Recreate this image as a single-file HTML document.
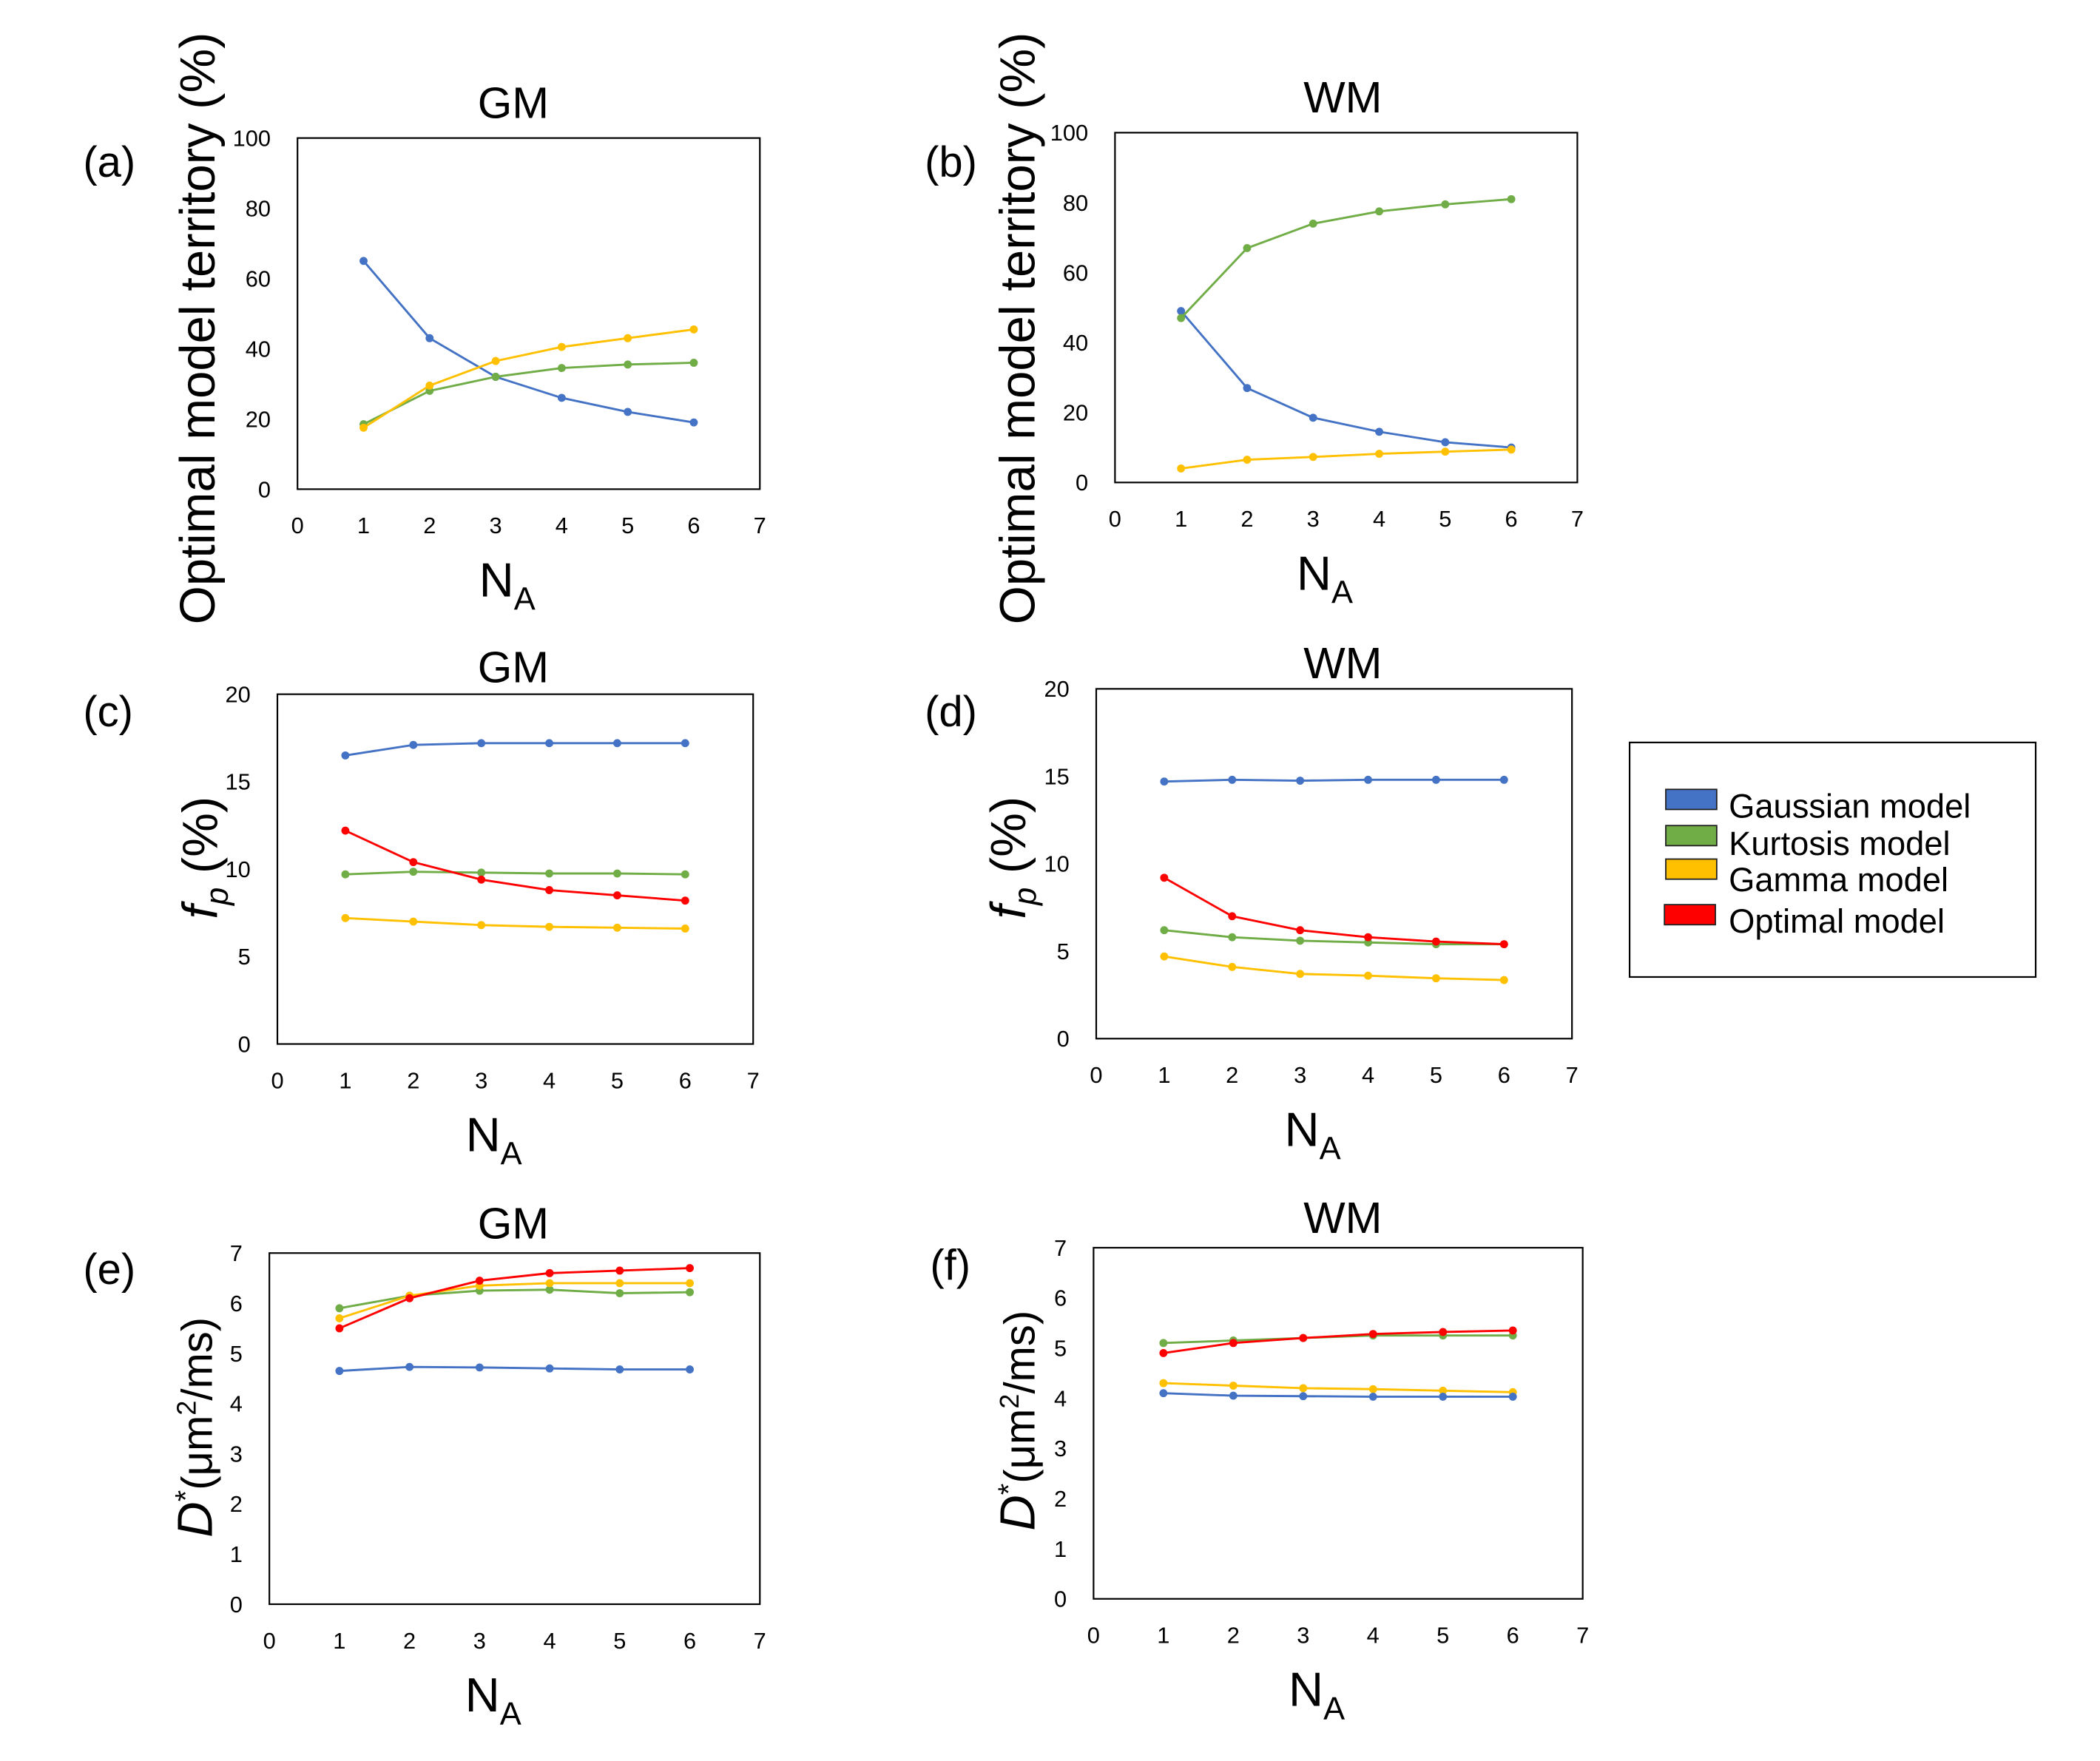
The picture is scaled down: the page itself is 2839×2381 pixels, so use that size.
<!DOCTYPE html>
<html><head><meta charset="utf-8">
<style>
html,body{margin:0;padding:0;background:#fff;}
svg{display:block;}
text{font-family:"Liberation Sans",sans-serif;fill:#000;}
.tick{font-family:"Liberation Sans Narrow","Liberation Sans",sans-serif;font-size:17px;}
</style></head>
<body>
<svg id="fig" width="2839" height="2381" viewBox="0 0 1567 1314" preserveAspectRatio="none" xmlns="http://www.w3.org/2000/svg">
  <g id="legend">
    <rect x="1216" y="554" width="303" height="175" fill="#fff" stroke="#000" stroke-width="1.2"/>
    <rect x="1243" y="589" width="38" height="15" fill="#4472C4" stroke="#222"/>
    <text x="1290" y="610" font-size="25">Gaussian model</text>
    <rect x="1243" y="616" width="38" height="15" fill="#70AD47" stroke="#222"/>
    <text x="1290" y="638" font-size="25">Kurtosis model</text>
    <rect x="1243" y="641" width="38" height="15" fill="#FFC000" stroke="#222"/>
    <text x="1290" y="665" font-size="25">Gamma model</text>
    <rect x="1242" y="675" width="38" height="15" fill="#FF0000" stroke="#222"/>
    <text x="1290" y="696" font-size="25">Optimal model</text>
  </g>
</svg>
<script>
const categories = [1,2,3,4,5,6];
const xTicks = ['0','1','2','3','4','5','6','7'];
// panel a
const aGaussian = [65,43,32,26,22,19];
const aKurtosis = [18.5,28,32,34.5,35.5,36];
const aGamma = [17.5,29.5,36.5,40.5,43,45.5];
// panel b
const bGaussian = [49,27,18.5,14.5,11.5,10];
const bKurtosis = [47,67,74,77.5,79.5,81];
const bGamma = [4,6.5,7.3,8.2,8.8,9.4];
// panel c
const cGaussian = [16.5,17.1,17.2,17.2,17.2,17.2];
const cKurtosis = [9.7,9.85,9.8,9.75,9.75,9.7];
const cGamma = [7.2,7.0,6.8,6.7,6.65,6.6];
const cOptimal = [12.2,10.4,9.4,8.8,8.5,8.2];
// panel d
const dGaussian = [14.7,14.8,14.75,14.8,14.8,14.8];
const dKurtosis = [6.2,5.8,5.6,5.5,5.4,5.4];
const dGamma = [4.7,4.1,3.7,3.6,3.45,3.35];
const dOptimal = [9.2,7.0,6.2,5.8,5.55,5.4];
// panel e
const eGaussian = [4.65,4.73,4.72,4.7,4.68,4.68];
const eKurtosis = [5.9,6.15,6.25,6.27,6.2,6.22];
const eGamma = [5.7,6.15,6.35,6.4,6.4,6.4];
const eOptimal = [5.5,6.1,6.45,6.6,6.65,6.7];
// panel f
const fGaussian = [4.1,4.05,4.04,4.03,4.03,4.03];
const fKurtosis = [5.1,5.15,5.2,5.25,5.25,5.25];
const fGamma = [4.3,4.25,4.2,4.18,4.15,4.12];
const fOptimal = [4.9,5.1,5.2,5.28,5.32,5.35];
// y tick labels
const ticksTerritory = ['0','20','40','60','80','100'];
const ticksFp = ['0','5','10','15','20'];
const ticksD = ['0','1','2','3','4','5','6','7'];

const NS='http://www.w3.org/2000/svg';
const svg=document.getElementById('fig');
const COL={gaussian:'#4472C4',kurtosis:'#70AD47',gamma:'#FFC000',optimal:'#FF0000'};
function mk(tag,attrs,parent){const e=document.createElementNS(NS,tag);for(const k in attrs)e.setAttribute(k,attrs[k]);(parent||svg).appendChild(e);return e;}

const panels=[
 {id:'a',x0:222,x1:567,y0:103,y1:365,ymax:100,yt:ticksTerritory,title:'GM',tx:383,ty:88,lab:'(a)',lx:62,ly:132,ylab:'territory',yx:160,yc:245,
  series:[['gaussian',aGaussian],['kurtosis',aKurtosis],['gamma',aGamma]]},
 {id:'b',x0:832,x1:1177,y0:99,y1:360,ymax:100,yt:ticksTerritory,title:'WM',tx:1002,ty:84,lab:'(b)',lx:690,ly:132,ylab:'territory',yx:772,yc:245,
  series:[['gaussian',bGaussian],['kurtosis',bKurtosis],['gamma',bGamma]]},
 {id:'c',x0:207,x1:562,y0:518,y1:779,ymax:20,yt:ticksFp,title:'GM',tx:383,ty:509,lab:'(c)',lx:62,ly:542,ylab:'fp',yx:162,yc:640,
  series:[['gaussian',cGaussian],['kurtosis',cKurtosis],['gamma',cGamma],['optimal',cOptimal]]},
 {id:'d',x0:818,x1:1173,y0:514,y1:775,ymax:20,yt:ticksFp,title:'WM',tx:1002,ty:506,lab:'(d)',lx:690,ly:542,ylab:'fp',yx:765,yc:640,
  series:[['gaussian',dGaussian],['kurtosis',dKurtosis],['gamma',dGamma],['optimal',dOptimal]]},
 {id:'e',x0:201,x1:567,y0:935,y1:1197,ymax:7,yt:ticksD,title:'GM',tx:383,ty:924,lab:'(e)',lx:62,ly:958,ylab:'D',yx:158,yc:1065,
  series:[['kurtosis',eKurtosis],['gamma',eGamma],['gaussian',eGaussian],['optimal',eOptimal]]},
 {id:'f',x0:816,x1:1181,y0:931,y1:1193,ymax:7,yt:ticksD,title:'WM',tx:1002,ty:920,lab:'(f)',lx:694,ly:955,ylab:'D',yx:772,yc:1060,
  series:[['kurtosis',fKurtosis],['gamma',fGamma],['gaussian',fGaussian],['optimal',fOptimal]]}
];

panels.forEach(p=>{
  const g=mk('g',{});
  
  
  const xs=v=>p.x0+(v/7)*(p.x1-p.x0);
  const ys=v=>p.y1-(v/p.ymax)*(p.y1-p.y0);
  const box=mk('rect',{x:p.x0,y:p.y0,width:p.x1-p.x0,height:p.y1-p.y0,fill:'#fff',stroke:'#000','stroke-width':1.2},g);
  
  
  xTicks.forEach((t,i)=>{
    const e=mk('text',{x:xs(+t),y:p.y1+33,'text-anchor':'middle',class:'tick'},g);
    e.textContent=t;
    
    
  });
  p.yt.forEach(t=>{
    const e=mk('text',{x:p.x0-20,y:ys(+t)+6,'text-anchor':'end',class:'tick'},g);
    e.textContent=t;
    
    
  });
  const ti=mk('text',{x:p.tx,y:p.ty,'text-anchor':'middle','font-size':33},g);
  ti.textContent=p.title;
  
  
  const lb=mk('text',{x:p.lx,y:p.ly,'font-size':32},g);
  lb.textContent=p.lab;
  
  
  const xl=mk('text',{x:(p.x0+p.x1)/2-37,y:p.y1+80,'font-size':36},g);
  xl.innerHTML='N<tspan font-size="24" dy="10">A</tspan>';
  
  
  const yl=mk('text',{x:0,y:0,'text-anchor':'middle','font-size':37,transform:`translate(${p.yx},${p.yc}) rotate(-90)`},g);
  if(p.ylab==='territory') yl.textContent='Optimal model territory (%)';
  else if(p.ylab==='fp') yl.innerHTML='<tspan font-style="italic">f</tspan><tspan font-style="italic" font-size="24" dy="8">p</tspan><tspan dy="-8"> (%)</tspan>';
  else yl.innerHTML='<tspan font-style="italic">D</tspan><tspan font-size="22" dy="-12">*</tspan><tspan dy="12" font-size="32">(μm</tspan><tspan font-size="20" dy="-12">2</tspan><tspan dy="12" font-size="32">/ms)</tspan>';
  
  
  p.series.forEach(([name,vals])=>{
    const pts=vals.map((v,i)=>xs(categories[i])+','+ys(v)).join(' ');
    const l=mk('polyline',{points:pts,fill:'none',stroke:COL[name],'stroke-width':1.6},g);
    
    
    vals.forEach((v,i)=>{
      const c=mk('circle',{cx:xs(categories[i]),cy:ys(v),r:3,fill:COL[name]},g);
      
      
    });
  });
});
</script>
</body></html>
